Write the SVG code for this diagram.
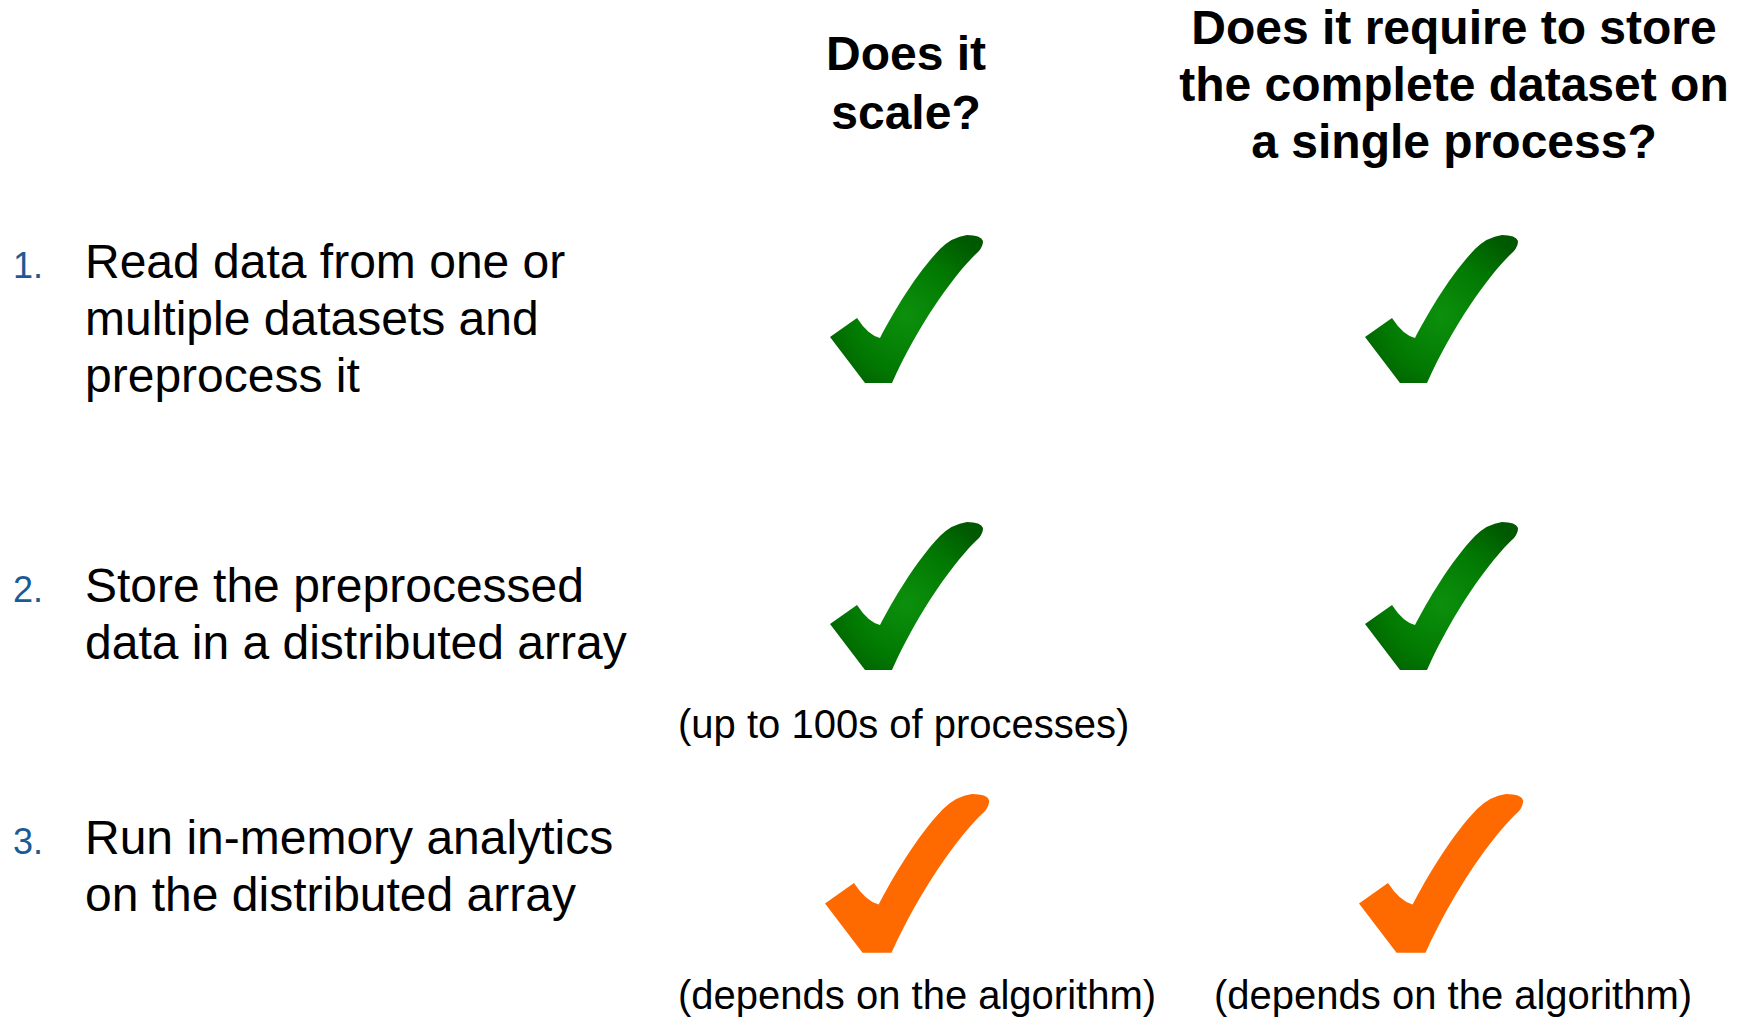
<svg xmlns="http://www.w3.org/2000/svg" width="1744" height="1017" viewBox="0 0 1744 1017">
  <style>
    .hdr { font-family: "Liberation Sans", Arial, sans-serif; font-weight: bold; font-size: 48px; fill: #000; text-anchor: middle; }
    .item { font-family: "Liberation Sans", Arial, sans-serif; font-size: 48px; fill: #000; }
    .num { font-family: "Liberation Sans", Arial, sans-serif; font-size: 36px; fill: #1c5a96; }
    .note { font-family: "Liberation Sans", Arial, sans-serif; font-size: 40px; fill: #000; }
    .green { fill: url(#gGreen); }
    .orange { fill: #ff6a00; }
  </style>
  <defs>
    <radialGradient id="gGreen" cx="0.5" cy="0.55" r="0.65">
      <stop offset="0" stop-color="#0c900c"/>
      <stop offset="0.55" stop-color="#027a02"/>
      <stop offset="1" stop-color="#005800"/>
    </radialGradient>
    <path id="check" d="M 50,103 C 62,80 85,40 110,14 Q 122,2 137,0 Q 151,0 153,6 Q 153,11 149,16 C 125,38 88,90 62,148 L 35,148 L 0,102 L 27,83 Q 38,100 50,103 Z"/>
  </defs>

  <g id="header-scale">
    <text class="hdr" x="906" y="70">Does it</text>
    <text class="hdr" x="906" y="129">scale?</text>
  </g>
  <g id="header-store">
    <text class="hdr" x="1454" y="44">Does it require to store</text>
    <text class="hdr" x="1454" y="101">the complete dataset on</text>
    <text class="hdr" x="1454" y="158">a single process?</text>
  </g>

  <g id="step1">
    <text class="num" x="13" y="278">1.</text>
    <text class="item" x="85" y="278">Read data from one or</text>
    <text class="item" x="85" y="335">multiple datasets and</text>
    <text class="item" x="85" y="392">preprocess it</text>
  </g>
  <g id="step2">
    <text class="num" x="13" y="602">2.</text>
    <text class="item" x="85" y="602">Store the preprocessed</text>
    <text class="item" x="85" y="659">data in a distributed array</text>
  </g>
  <g id="step3">
    <text class="num" x="13" y="854">3.</text>
    <text class="item" x="85" y="854">Run in-memory analytics</text>
    <text class="item" x="85" y="911">on the distributed array</text>
  </g>

  <g id="check-1-scale"><use href="#check" class="green" transform="translate(830,235)"/></g>
  <g id="check-1-store"><use href="#check" class="green" transform="translate(1365,235)"/></g>
  <g id="check-2-scale"><use href="#check" class="green" transform="translate(830,522)"/></g>
  <g id="check-2-store"><use href="#check" class="green" transform="translate(1365,522)"/></g>
  <g id="check-3-scale"><use href="#check" class="orange" transform="translate(825,794) scale(1.073)"/></g>
  <g id="check-3-store"><use href="#check" class="orange" transform="translate(1359,794) scale(1.073)"/></g>

  <g id="notes">
    <text class="note" x="678" y="738">(up to 100s of processes)</text>
    <text class="note" x="678" y="1009">(depends on the algorithm)</text>
    <text class="note" x="1214" y="1009">(depends on the algorithm)</text>
  </g>

  <g id="connectors"></g>
</svg>
